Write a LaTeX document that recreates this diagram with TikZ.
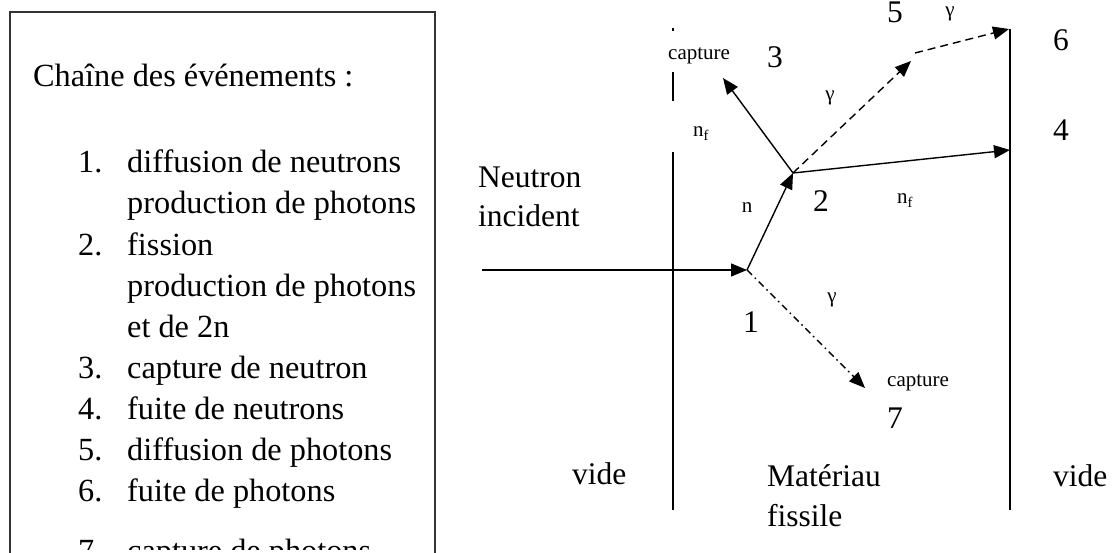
\documentclass[tikz,border=0pt]{standalone}
\usepackage{fontspec}
\setmainfont{Liberation Serif}
\usetikzlibrary{arrows.meta}
\begin{document}
\begin{tikzpicture}[x=1pt,y=-1pt,
  big/.style={font=\fontsize{31.5}{38}\selectfont, inner sep=0pt, anchor=base west},
  list/.style={font=\fontsize{32.3}{38}\selectfont, inner sep=0pt, anchor=base west},
  small/.style={font=\fontsize{21}{25}\selectfont, inner sep=0pt, anchor=base west},
  smallc/.style={font=\fontsize{21}{25}\selectfont, inner sep=0pt, anchor=center},
  ln/.style={line width=1.4pt},
  arr/.style={ln, -{Triangle[length=16pt,width=13pt]}},
  dashln/.style={arr, dash pattern=on 8pt off 5pt},
  dotdash/.style={arr, dash pattern=on 7pt off 4pt on 1.5pt off 4pt},
  wall/.style={line width=1.3pt}
]
\useasboundingbox (0,0) rectangle (1115,553);
\clip (0,0) rectangle (1115,553);

% ---- left box with event list ----
\draw[line width=1.2pt, black!80] (10,570) -- (10,12) -- (435,12) -- (435,570);
\begin{scope}
\clip (11,13) rectangle (434,549);
\node[list] (title) at (33,87) {Chaîne des événements :};
\node[list] (n1) at (78,173) {1.};
\node[list] (t1a) at (127,173) {diffusion de neutrons};
\node[list] (t1b) at (127,214) {production de photons};
\node[list] (n2) at (78,255) {2.};
\node[list] (t2a) at (127,255) {fission};
\node[list] (t2b) at (127,296) {production de photons};
\node[list] (t2c) at (127,337) {et de 2n};
\node[list] (n3) at (78,378) {3.};
\node[list] (t3) at (127,378) {capture de neutron};
\node[list] (n4) at (78,419) {4.};
\node[list] (t4) at (127,419) {fuite de neutrons};
\node[list] (n5) at (78,460) {5.};
\node[list] (t5) at (127,460) {diffusion de photons};
\node[list] (n6) at (78,501) {6.};
\node[list] (t6) at (127,501) {fuite de photons};
\node[list] (n7) at (78,561) {7.};
\node[list] (t7) at (127,561) {capture de photons};
\end{scope}

% ---- walls ----
\coordinate (wLt0) at (673,28);
\coordinate (wLt1) at (673,31);
\coordinate (wLa0) at (673,72);
\coordinate (wLa1) at (673,101);
\coordinate (wLb0) at (673,152);
\coordinate (wLb1) at (673,510);
\coordinate (wRt) at (1010,29);
\coordinate (wRb) at (1010,510);
\draw[wall] (wLt0) -- (wLt1);
\draw[wall] (wLa0) -- (wLa1);
\draw[wall] (wLb0) -- (wLb1);
\draw[wall] (wRt) -- (wRb);

% ---- event points ----
\coordinate (start) at (482,270);
\coordinate (p1) at (747,270);
\coordinate (p2) at (793,173);
\coordinate (p3) at (723,78);
\coordinate (p4) at (1010,150);
\coordinate (p5a) at (911,61);
\coordinate (p5b) at (915,53);
\coordinate (p6) at (1009,29);
\coordinate (p7) at (865,388);

\draw[arr] (start) -- (p1);
\draw[arr] (p1) -- (p2);
\draw[arr] (p2) -- (p3);
\draw[arr] (p2) -- (p4);
\draw[dashln] (p2) -- (p5a);
\draw[dashln] (p5b) -- (p6);
\draw[dotdash] (p1) -- (p7);

% ---- labels ----
\node[small] (cap3) at (668,60) {capture};
\node[small] (nfL) at (693,137) {n\textsubscript{f}};
\node[smallc] (g2) at (830,98) {γ};
\node[smallc] (g5) at (950,14) {γ};
\node[small] (nfR) at (897,204) {n\textsubscript{f}};
\node[smallc] (nn) at (747,208) {n};
\node[smallc] (g1) at (832,300) {γ};
\node[small] (cap7) at (887,386) {capture};

\node[big] (e3) at (767,68) {3};
\node[big] (e5) at (887,23) {5};
\node[big] (e6) at (1053,51) {6};
\node[big] (e4) at (1053,141) {4};
\node[big] (e2) at (813,212) {2};
\node[big] (e1) at (743,332) {1};
\node[big] (e7) at (887,428) {7};

\node[big] (ninc1) at (478,188) {Neutron};
\node[big] (ninc2) at (478,227) {incident};
\node[big] (videL) at (572,484) {vide};
\node[big] (mat1) at (767,486) {Matériau};
\node[big] (mat2) at (767,526) {fissile};
\node[big] (videR) at (1053,486) {vide};
\end{tikzpicture}
\end{document}
